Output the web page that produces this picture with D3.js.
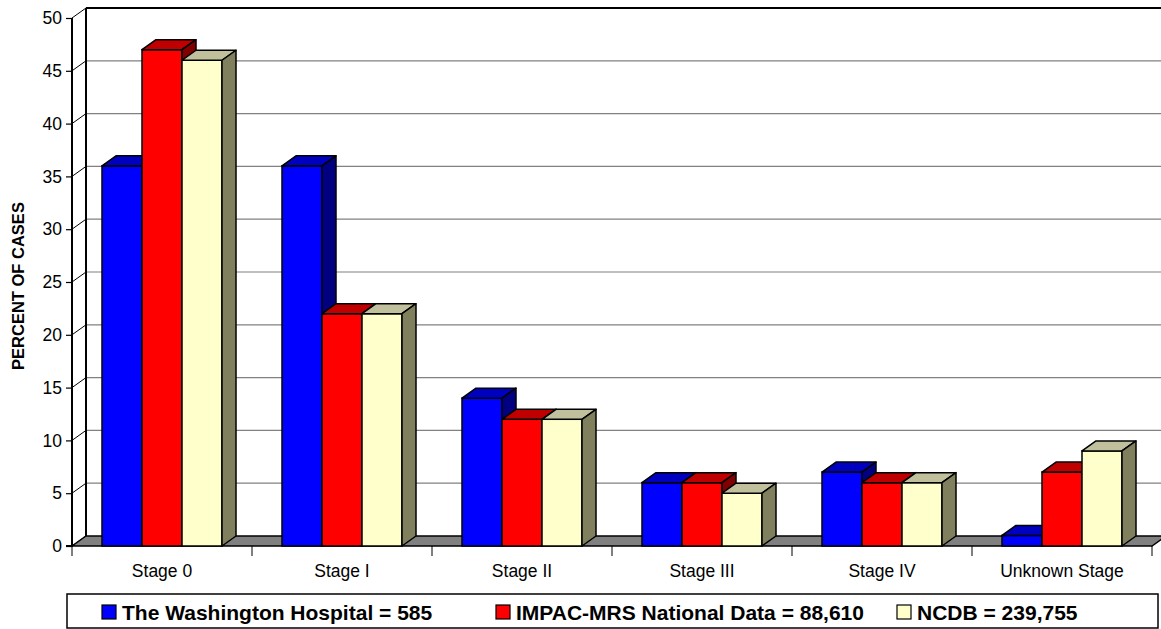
<!DOCTYPE html>
<html>
<head>
<meta charset="utf-8">
<script src="https://cdn.jsdelivr.net/npm/d3@7/dist/d3.min.js"></script>
<style>
  html, body { margin: 0; padding: 0; background: #fff; }
  svg { display: block; font-family: Arial, "Liberation Sans", sans-serif; }
</style>
</head>
<body>
<svg id="chart" width="1161" height="629"></svg>
<script>
// Percent of cases by stage at diagnosis
const categories = ["Stage 0", "Stage I", "Stage II", "Stage III", "Stage IV", "Unknown Stage"];
const seriesNames = [
  "The Washington Hospital = 585",
  "IMPAC-MRS National Data = 88,610",
  "NCDB = 239,755"
];
const washington = [36, 36, 14, 6, 7, 1];
const impac = [47, 22, 12, 6, 6, 7];
const ncdb = [46, 22, 12, 5, 6, 9];
const yTicks = [0, 5, 10, 15, 20, 25, 30, 35, 40, 45, 50];

// face colours: front, top, side
const palettes = [
  { front: "#0000ff", top: "#0000c0", side: "#000080" },
  { front: "#ff0000", top: "#c00000", side: "#800000" },
  { front: "#ffffcc", top: "#c0c09c", side: "#80805f" }
];

const series = [washington, impac, ncdb];

const svg = d3.select("#chart");
const dx = 14, dy = 10;            // depth offset of the back wall
const plotLeft = 72, plotRight = 1152;
const font = "Arial, 'Liberation Sans', sans-serif";

const y = d3.scaleLinear().domain([0, 50]).range([546, 18]);
const x = d3.scaleBand().domain(categories).range([plotLeft, plotRight]).padding(0);
const xs = d3.scaleBand().domain(d3.range(series.length)).range([30, 150]).padding(0);

// back wall gridlines
svg.append("g").selectAll("line").data(yTicks.filter(t => t > 0)).join("line")
  .attr("x1", plotLeft + dx).attr("x2", 1161 + dx)
  .attr("y1", d => y(d) - dy).attr("y2", d => y(d) - dy)
  .attr("stroke", d => d === 50 ? "#000" : "#808080")
  .attr("stroke-width", d => d === 50 ? 2 : 1.2);

// back wall left edge
svg.append("line")
  .attr("x1", plotLeft + dx).attr("x2", plotLeft + dx)
  .attr("y1", y(50) - dy).attr("y2", y(0) - dy)
  .attr("stroke", "#000").attr("stroke-width", 2);

// side wall: slanted connectors from front axis to back wall
svg.append("g").selectAll("line").data(yTicks).join("line")
  .attr("x1", plotLeft).attr("x2", plotLeft + dx)
  .attr("y1", d => y(d)).attr("y2", d => y(d) - dy)
  .attr("stroke", "#000").attr("stroke-width", 1);

// floor
svg.append("path")
  .attr("d", `M${plotLeft},${y(0)} L${plotLeft + dx},${y(0) - dy} L${1161 + dx},${y(0) - dy} L${plotRight + dx},${y(0) - dy} L${plotRight},${y(0)} Z`)
  .attr("fill", "#808080").attr("stroke", "#000").attr("stroke-width", 1.5);

// 3D bars
const groups = svg.append("g").selectAll("g").data(categories).join("g")
  .attr("transform", c => `translate(${x(c)},0)`);

groups.each(function (c, ci) {
  const g = d3.select(this);
  series.forEach((vals, si) => {
    const v = vals[ci];
    const x0 = xs(si), w = xs.bandwidth();
    const yt = y(v), yb = y(0);
    const pal = palettes[si];
    g.append("rect")
      .attr("x", x0).attr("y", yt).attr("width", w).attr("height", yb - yt)
      .attr("fill", pal.front).attr("stroke", "#000").attr("stroke-width", 1.5);
    g.append("path")
      .attr("d", `M${x0},${yt} L${x0 + dx},${yt - dy} L${x0 + w + dx},${yt - dy} L${x0 + w},${yt} Z`)
      .attr("fill", pal.top).attr("stroke", "#000").attr("stroke-width", 1.5).attr("stroke-linejoin", "round");
    g.append("path")
      .attr("d", `M${x0 + w},${yt} L${x0 + w + dx},${yt - dy} L${x0 + w + dx},${yb - dy} L${x0 + w},${yb} Z`)
      .attr("fill", pal.side).attr("stroke", "#000").attr("stroke-width", 1.5).attr("stroke-linejoin", "round");
  });
});

// front value axis
const yAxis = d3.axisLeft(y).tickValues(yTicks).tickSize(6).tickPadding(4);
const ya = svg.append("g").attr("transform", `translate(${plotLeft},0)`).call(yAxis);
ya.select(".domain").attr("stroke", "#000").attr("stroke-width", 2).attr("d", `M-6,${y(0)}H0V${y(50)}`);
ya.selectAll(".tick line").attr("stroke", "#000").attr("stroke-width", 1.2);
ya.selectAll(".tick text").attr("font-size", 17.5).attr("fill", "#000").attr("font-family", font);

// category axis
const xAxis = d3.axisBottom(x).tickSize(0).tickPadding(0);
const xa = svg.append("g").attr("transform", `translate(0,${y(0)})`).call(xAxis);
xa.select(".domain").remove();
xa.selectAll(".tick text").attr("font-size", 17.5).attr("fill", "#000")
  .attr("dy", 0).attr("y", 31).attr("font-family", font);
// category separators
svg.append("g").selectAll("line").data(d3.range(categories.length + 1)).join("line")
  .attr("x1", i => plotLeft + i * x.bandwidth()).attr("x2", i => plotLeft + i * x.bandwidth())
  .attr("y1", y(0)).attr("y2", y(0) + 10)
  .attr("stroke", "#000").attr("stroke-width", 1);

// value axis title
svg.append("text")
  .attr("transform", `translate(24,${(y(0) + y(50)) / 2 + 4}) rotate(-90)`)
  .attr("text-anchor", "middle").attr("font-size", 16.5).attr("font-weight", "bold")
  .text("PERCENT OF CASES");

// legend
const legend = svg.append("g");
legend.append("rect")
  .attr("x", 67).attr("y", 594).attr("width", 1091).attr("height", 34)
  .attr("fill", "#fff").attr("stroke", "#000").attr("stroke-width", 1.5);
const legendX = [102, 496, 897];
const items = legend.selectAll("g").data(seriesNames).join("g")
  .attr("transform", (d, i) => `translate(${legendX[i]},605)`);
items.append("rect").attr("width", 14).attr("height", 14)
  .attr("fill", (d, i) => palettes[i].front).attr("stroke", "#000").attr("stroke-width", 1.2);
items.append("text").attr("x", 20).attr("y", 15)
  .attr("font-size", 21).attr("font-weight", "bold").text(d => d);
</script>
</body>
</html>
